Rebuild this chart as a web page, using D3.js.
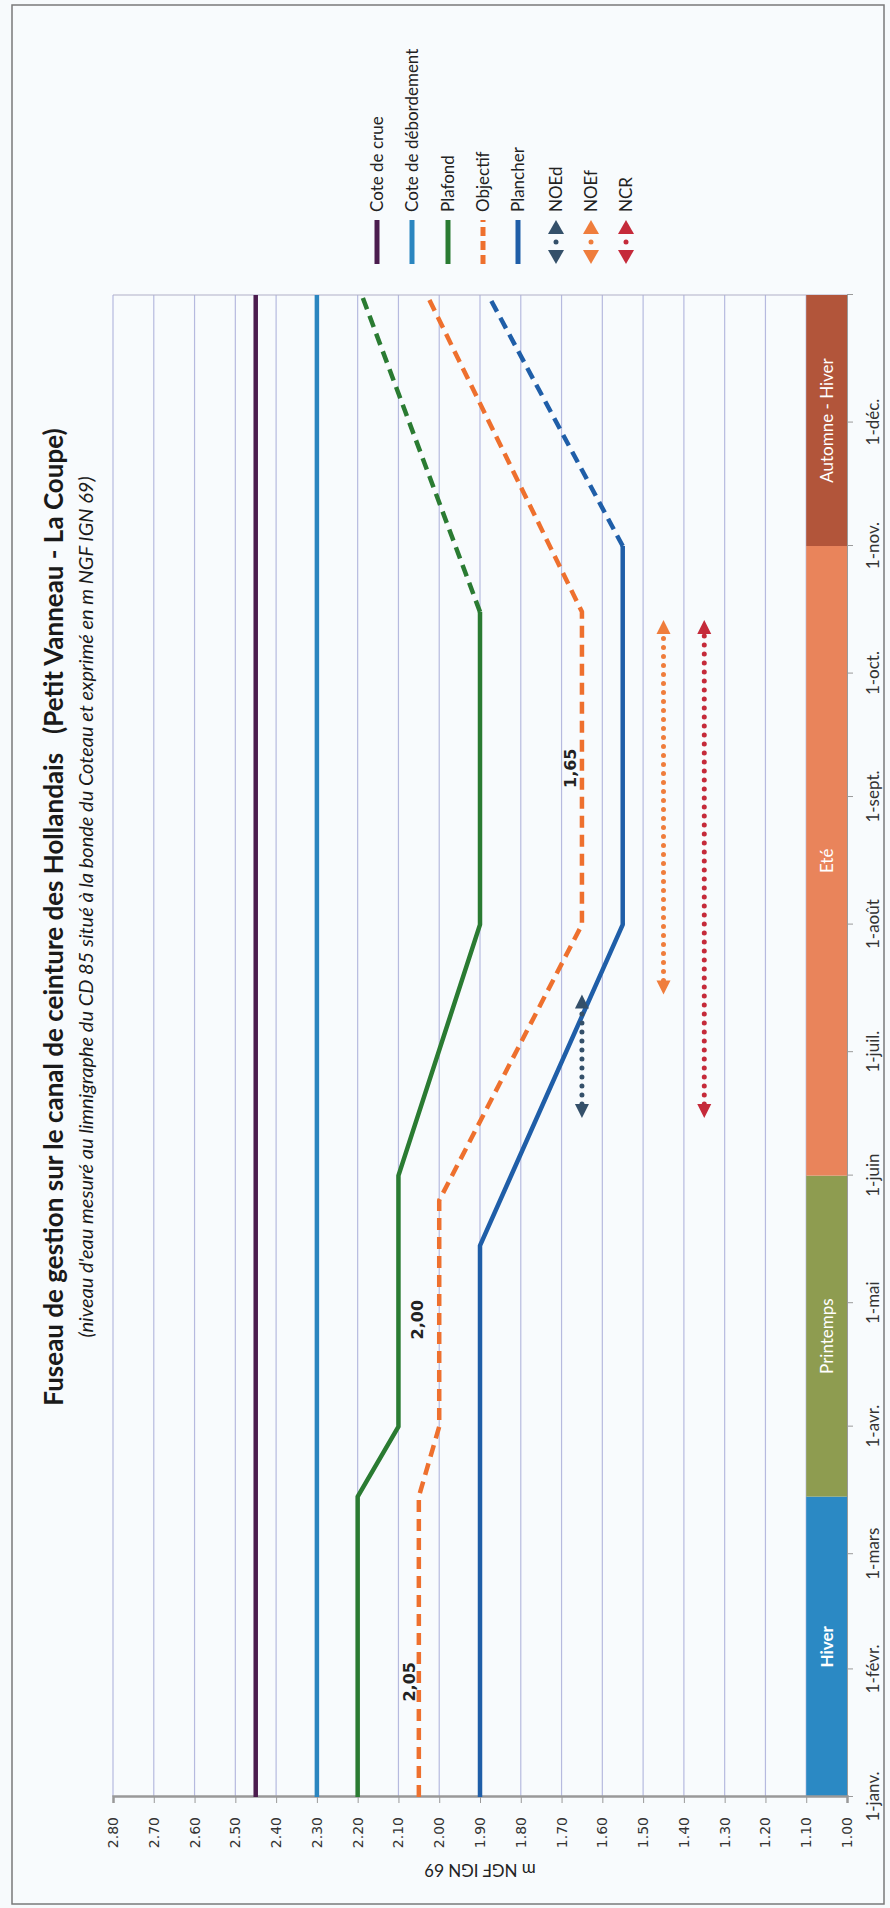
<!DOCTYPE html>
<html lang="fr">
<head>
<meta charset="UTF-8"/>
<title>Fuseau de gestion - canal de ceinture des Hollandais</title>
<script src="https://d3js.org/d3.v7.min.js"></script>
<style>
  html, body { margin: 0; padding: 0; background: #f7fafc; }
  svg { display: block; }
  text { font-family: Lato, "Open Sans", sans-serif; }
</style>
</head>
<body>
<script>
// ---- data ----
var parse = d3.timeParse("%Y-%m-%d");

var monthLabels = ["1-janv.", "1-févr.", "1-mars", "1-avr.", "1-mai", "1-juin",
                   "1-juil.", "1-août", "1-sept.", "1-oct.", "1-nov.", "1-déc."];
var valueTicks  = [1.0, 1.1, 1.2, 1.3, 1.4, 1.5, 1.6, 1.7, 1.8, 1.9,
                   2.0, 2.1, 2.2, 2.3, 2.4, 2.5, 2.6, 2.7, 2.8];
var valueLabels = ["1.00", "1.10", "1.20", "1.30", "1.40", "1.50", "1.60", "1.70", "1.80", "1.90",
                   "2.00", "2.10", "2.20", "2.30", "2.40", "2.50", "2.60", "2.70", "2.80"];

var coteCrue        = [["2019-01-01", 2.45], ["2020-01-01", 2.45]];
var coteDebordement = [["2019-01-01", 2.30], ["2020-01-01", 2.30]];
var plafond         = [["2019-01-01", 2.20], ["2019-03-15", 2.20], ["2019-04-01", 2.10],
                       ["2019-06-01", 2.10], ["2019-08-01", 1.90], ["2019-10-16", 1.90]];
var plafondFin      = [["2019-10-16", 1.90], ["2020-01-01", 2.19]];
var objectif        = [["2019-01-01", 2.05], ["2019-03-15", 2.05], ["2019-04-01", 2.00],
                       ["2019-05-26", 2.00], ["2019-08-01", 1.65], ["2019-10-16", 1.65],
                       ["2020-01-01", 2.03]];
var plancher        = [["2019-01-01", 1.90], ["2019-05-15", 1.90], ["2019-08-01", 1.55],
                       ["2019-11-01", 1.55]];
var plancherFin     = [["2019-11-01", 1.55], ["2020-01-01", 1.88]];

// double arrows: [start, end, level]
var noed = ["2019-06-15", "2019-07-15", 1.65];
var noef = ["2019-07-15", "2019-10-14", 1.45];
var ncr  = ["2019-06-15", "2019-10-14", 1.35];

var seasonNames = ["Hiver", "Printemps", "Eté", "Automne - Hiver"];
var seasonStart = ["2019-01-01", "2019-03-15", "2019-06-01", "2019-11-01"];
var seasonEnd   = ["2019-03-15", "2019-06-01", "2019-11-01", "2020-01-01"];
var seasonColor = ["#2b89c4", "#8e9c50", "#e9845b", "#b2553a"];

// value labels written on the chart: [text, date, level]
var notes = [["2,05", "2019-01-29", 2.06], ["2,00", "2019-04-27", 2.04], ["1,65", "2019-09-08", 1.665]];

var legendNames  = ["Cote de crue", "Cote de débordement", "Plafond", "Objectif", "Plancher", "NOEd", "NOEf", "NCR"];
var legendColors = ["#4b1c4e", "#2b86c0", "#2a7b32", "#ee702e", "#1f5ea8", "#34506a", "#ef7d3c", "#c52a3a"];

// ---- drawing: the chart is laid out landscape then turned a quarter left ----
var W = 890, H = 1908;      // page

var svg = d3.select("body").append("svg")
    .attr("width", W)
    .attr("height", H);

svg.append("rect")
    .attr("x", 12).attr("y", 5)
    .attr("width", 872).attr("height", 1899)
    .attr("fill", "#f8fbfd")
    .attr("stroke", "#7a7a7a")
    .attr("stroke-width", 1.5);

var g = svg.append("g")
    .attr("transform", "translate(0," + H + ") rotate(-90)");

var x = d3.scaleTime()
    .domain([parse("2019-01-01"), parse("2020-01-01")])
    .range([111, 1613]);

var y = d3.scaleLinear()
    .domain([1.0, 2.8])
    .range([847, 113]);

function pts(arr) {
    return arr.map(function(d) { return [parse(d[0]), d[1]]; });
}
var line = d3.line()
    .x(function(d) { return x(d[0]); })
    .y(function(d) { return y(d[1]); });

// grid
g.append("g").selectAll("line")
    .data(valueTicks)
    .enter().append("line")
    .attr("x1", x.range()[0])
    .attr("x2", x.range()[1])
    .attr("y1", function(d) { return y(d); })
    .attr("y2", function(d) { return y(d); })
    .attr("stroke", "#b6badf")
    .attr("stroke-width", 1.2);

// right border of plot
g.append("line")
    .attr("x1", x.range()[1]).attr("x2", x.range()[1])
    .attr("y1", y(2.8)).attr("y2", y(1.0))
    .attr("stroke", "#b0b0c8").attr("stroke-width", 1.2);

// season band
g.append("g").selectAll("rect")
    .data(seasonNames)
    .enter().append("rect")
    .attr("x", function(d, i) { return x(parse(seasonStart[i])); })
    .attr("width", function(d, i) { return x(parse(seasonEnd[i])) - x(parse(seasonStart[i])); })
    .attr("y", y(1.1))
    .attr("height", y(1.0) - y(1.1))
    .attr("fill", function(d, i) { return seasonColor[i]; });

g.append("g").selectAll("text")
    .data(seasonNames)
    .enter().append("text")
    .attr("x", function(d, i) {
        return (x(parse(seasonStart[i])) + x(parse(seasonEnd[i]))) / 2;
    })
    .attr("y", (y(1.0) + y(1.1)) / 2)
    .attr("dy", "0.35em")
    .attr("text-anchor", "middle")
    .attr("fill", "#ffffff")
    .attr("font-size", "17px")
    .attr("font-weight", function(d, i) { return i === 0 ? "bold" : "normal"; })
    .text(function(d) { return d; });

// axes
var xAxis = d3.axisBottom(x)
    .tickValues(d3.timeMonths(parse("2019-01-01"), parse("2020-01-02")))
    .tickSize(6)
    .tickFormat(function(d, i) { return monthLabels[i] || ""; });

var gx = g.append("g")
    .attr("transform", "translate(0," + y(1.0) + ")")
    .call(xAxis);
gx.select(".domain").attr("stroke", "#9a9a9a");
gx.selectAll(".tick line").attr("stroke", "#9a9a9a");
gx.selectAll(".tick text")
    .attr("y", 20)
    .attr("fill", "#333")
    .style("font-family", "Lato, sans-serif")
    .style("font-size", "17px");

var yAxis = d3.axisLeft(y)
    .tickValues(valueTicks)
    .tickSize(6)
    .tickPadding(14)
    .tickFormat(function(d, i) { return valueLabels[i]; });

var gy = g.append("g")
    .attr("transform", "translate(" + x.range()[0] + ",0)")
    .call(yAxis);
gy.select(".domain").attr("stroke", "#999").attr("stroke-width", 2.5);
gy.selectAll(".tick line").attr("stroke", "#999");
gy.selectAll(".tick text")
    .attr("fill", "#333")
    .style("font-family", "'DejaVu Sans', sans-serif")
    .style("font-size", "14px");

g.append("text")
    .attr("transform", "translate(44," + ((y(1.0) + y(2.8)) / 2) + ") rotate(-90)")
    .attr("text-anchor", "middle")
    .attr("font-size", "17px")
    .attr("fill", "#222")
    .text("m NGF IGN 69");

// series
function drawLine(arr, color, dash) {
    g.append("path")
        .datum(pts(arr))
        .attr("d", line)
        .attr("fill", "none")
        .attr("stroke", color)
        .attr("stroke-width", 4.5)
        .attr("stroke-linejoin", "round")
        .attr("stroke-dasharray", dash || null);
}
drawLine(coteCrue, legendColors[0]);
drawLine(coteDebordement, legendColors[1]);
drawLine(plafond, legendColors[2]);
drawLine(plafondFin, legendColors[2], "12,7");
drawLine(plancher, legendColors[4]);
drawLine(plancherFin, legendColors[4], "12,7");
drawLine(objectif, legendColors[3], "12,7");

// double arrows
function drawArrow(a, color) {
    var x0 = x(parse(a[0])), x1 = x(parse(a[1])), yy = y(a[2]);
    var head = 14, half = 7;
    g.append("line")
        .attr("x1", x0 + head).attr("x2", x1 - head)
        .attr("y1", yy).attr("y2", yy)
        .attr("stroke", color)
        .attr("stroke-width", 5)
        .attr("stroke-linecap", "round")
        .attr("stroke-dasharray", "0,9");
    g.append("path")
        .attr("d", "M" + x0 + "," + yy + "L" + (x0 + head) + "," + (yy - half) + "L" + (x0 + head) + "," + (yy + half) + "Z")
        .attr("fill", color);
    g.append("path")
        .attr("d", "M" + x1 + "," + yy + "L" + (x1 - head) + "," + (yy - half) + "L" + (x1 - head) + "," + (yy + half) + "Z")
        .attr("fill", color);
}
drawArrow(noed, legendColors[5]);
drawArrow(noef, legendColors[6]);
drawArrow(ncr, legendColors[7]);

// labels on the lines
g.append("g").selectAll("text")
    .data(notes)
    .enter().append("text")
    .attr("x", function(d) { return x(parse(d[1])); })
    .attr("y", function(d) { return y(d[2]); })
    .attr("text-anchor", "middle")
    .attr("fill", "#222")
    .style("font-family", "'DejaVu Sans', sans-serif")
    .style("font-size", "16px")
    .style("font-weight", "bold")
    .text(function(d) { return d[0]; });

// title
g.append("text")
    .attr("x", 991).attr("y", 63)
    .attr("text-anchor", "middle")
    .attr("font-size", "26px")
    .attr("font-weight", "bold")
    .attr("fill", "#1a1a1a")
    .attr("xml:space", "preserve")
    .text("Fuseau de gestion sur le canal de ceinture des Hollandais   (Petit Vanneau - La Coupe)");

g.append("text")
    .attr("x", 1001).attr("y", 93)
    .attr("text-anchor", "middle")
    .attr("font-size", "20px")
    .attr("font-style", "italic")
    .attr("fill", "#1a1a1a")
    .text("(niveau d'eau mesuré au limnigraphe du CD 85 situé à la bonde du Coteau et exprimé en m NGF IGN 69)");

// legend
var lg = g.append("g").attr("transform", "translate(1644,0)");
var legendY = [377, 412, 448, 483, 518, 556, 591, 626];

legendNames.forEach(function(name, i) {
    var yy = legendY[i];
    if (i < 5) {
        lg.append("line")
            .attr("x1", 0).attr("x2", 44)
            .attr("y1", yy).attr("y2", yy)
            .attr("stroke", legendColors[i])
            .attr("stroke-width", 5)
            .attr("stroke-dasharray", i === 3 ? "9,5" : null);
    } else {
        lg.append("path")
            .attr("d", "M0," + yy + "L14," + (yy - 8) + "L14," + (yy + 8) + "Z")
            .attr("fill", legendColors[i]);
        lg.append("path")
            .attr("d", "M44," + yy + "L30," + (yy - 8) + "L30," + (yy + 8) + "Z")
            .attr("fill", legendColors[i]);
        lg.append("circle")
            .attr("cx", 22).attr("cy", yy).attr("r", 2.5)
            .attr("fill", legendColors[i]);
    }
    lg.append("text")
        .attr("x", 52).attr("y", yy)
        .attr("dy", "0.35em")
        .attr("font-size", "17px")
        .attr("fill", "#222")
        .text(name);
});
</script>
</body>
</html>
